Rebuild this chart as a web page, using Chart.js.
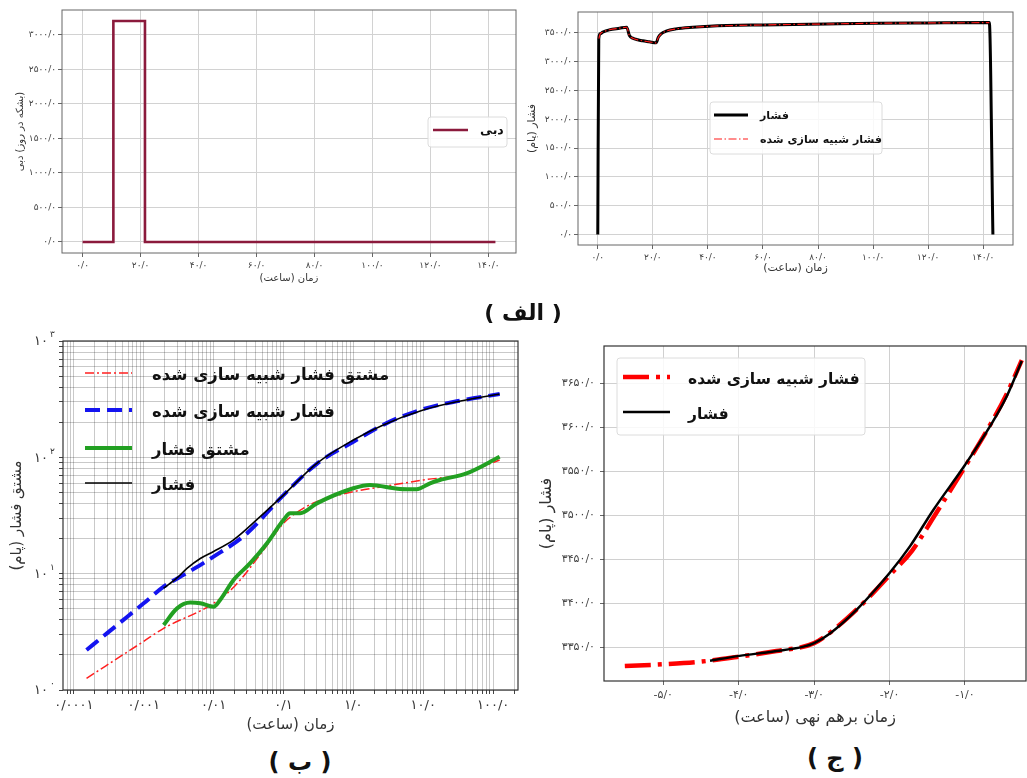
<!DOCTYPE html>
<html lang="fa">
<head>
<meta charset="utf-8">
<title>chart</title>
<script src="https://cdn.jsdelivr.net/npm/chart.js@4.4.1/dist/chart.umd.min.js"></script>
<style>
html,body{margin:0;padding:0;width:1027px;height:778px;overflow:hidden;background:#fff;}
canvas{position:absolute;}
.plabel{position:absolute;transform:translate(-50%,-50%);font-family:'DejaVu Sans',sans-serif;font-weight:bold;color:#111;white-space:nowrap;direction:rtl;}
</style>
</head>
<body>
<canvas id="cRate" width="520" height="292" style="left:0px;top:0px"></canvas>
<canvas id="cPres" width="517" height="292" style="left:510px;top:0px"></canvas>
<canvas id="cLog" width="530" height="420" style="left:0px;top:320px"></canvas>
<canvas id="cSup" width="520" height="400" style="left:530px;top:330px"></canvas>
<div class="plabel" style="left:523px;top:312px;font-size:22px">( الف )</div>
<div class="plabel" style="left:300px;top:762px;font-size:24px">( ب )</div>
<div class="plabel" style="left:835px;top:758px;font-size:24px">( ج )</div>
<script>
// ---------------- data ----------------
const rateHours = [0, 10.6, 10.6, 21.5, 21.5, 142.4];
const rateBblPerDay = [0, 0, 3200, 3200, 0, 0];

const pressureHours = [0, 0.36, 0.85, 1.8, 4.2, 7.9, 10.5, 11.5, 12.7, 14.5, 16.3, 18.7, 21.2, 22.0, 23.0, 24.8, 28.4, 34.5, 40.5, 60, 83, 101, 120, 142.2, 143.5];
const pressurePsi = [0, 3396, 3483, 3511, 3552, 3580, 3598, 3454, 3408, 3379, 3362, 3345, 3327, 3425, 3483, 3529, 3569, 3598, 3615, 3638, 3655, 3667, 3673, 3678, 0];
const simPressureHours = [0.4, 0.85, 1.8, 4.2, 7.9, 10.5, 11.5, 12.7, 14.5, 16.3, 18.7, 21.2, 22.0, 23.0, 24.8, 28.4, 34.5, 40.5, 60, 83, 101, 120, 142.2];
const simPressurePsi = [3400, 3480, 3512, 3553, 3581, 3597, 3452, 3407, 3378, 3361, 3344, 3326, 3420, 3480, 3528, 3568, 3597, 3614, 3637, 3654, 3666, 3672, 3677];

const logPressureHours = [0.00193, 0.003, 0.00416, 0.00645, 0.01, 0.0193, 0.0464, 0.1, 0.3, 1, 2.68, 10, 30, 124];
const logPressure = [7.5, 9.2, 11.1, 13.5, 15.5, 19.5, 30.9, 47.4, 88.8, 141, 190, 255, 300, 350];
const logSimPressureHours = [0.000152, 0.0003, 0.0006, 0.001, 0.00193, 0.004, 0.01, 0.03, 0.1, 0.3, 1, 3, 10, 30, 124];
const logSimPressure = [2.21, 3.08, 4.33, 5.56, 7.73, 10.0, 14.0, 22.2, 47.4, 88, 136, 197, 260, 303, 350];
const logDerivHours = [0.00193, 0.003, 0.00464, 0.00645, 0.01, 0.0124, 0.0193, 0.0334, 0.0578, 0.1, 0.1245, 0.173, 0.3, 1, 1.73, 4.64, 8.03, 12.5, 17.3, 41.6, 124];
const logDeriv = [3.62, 5.03, 5.64, 5.56, 5.2, 5.94, 8.83, 12.3, 18.2, 28.9, 33, 33, 40.2, 54.2, 57.8, 53.5, 53.2, 59.8, 63.9, 72.8, 101];
const logSimDerivHours = [0.000152, 0.001, 0.00193, 0.01, 0.02, 0.05, 0.1, 0.2, 0.3, 1, 3, 10, 33, 60, 124];
const logSimDeriv = [1.26, 2.62, 3.39, 5.56, 7.8, 15.5, 27.1, 37, 41.6, 50.7, 56.7, 63.9, 70.5, 80, 94.9];

const supTimeMeasured = [-4.38, -3.99, -3.54, -3.14, -3.0, -2.79, -2.435, -2.0, -1.73, -1.42, -1.0, -0.667, -0.446, -0.247];
const supPressureMeasured = [3335, 3340.5, 3345.5, 3351, 3355, 3366, 3393, 3434.5, 3464.7, 3506, 3557, 3601, 3635, 3675];
const supTimeSim = [-5.51, -5.0, -4.5, -4.0, -3.5, -3.0, -2.7, -2.4, -2.0, -1.7, -1.4, -1.0, -0.67, -0.45, -0.247];
const supPressureSim = [3329, 3331, 3334, 3339.5, 3346, 3355, 3373, 3396, 3432, 3460, 3500, 3555, 3602, 3637, 3676];

// ticks
const timeTickValues = [0, 20, 40, 60, 80, 100, 120, 140];
const timeTickLabels = ['۰/۰', '۲۰/۰', '۴۰/۰', '۶۰/۰', '۸۰/۰', '۱۰۰/۰', '۱۲۰/۰', '۱۴۰/۰'];
const rateTickValues = [0, 500, 1000, 1500, 2000, 2500, 3000];
const rateTickLabels = ['۰/۰', '۵۰۰/۰', '۱۰۰۰/۰', '۱۵۰۰/۰', '۲۰۰۰/۰', '۲۵۰۰/۰', '۳۰۰۰/۰'];
const presTickValues = [0, 500, 1000, 1500, 2000, 2500, 3000, 3500];
const presTickLabels = ['۰/۰', '۵۰۰/۰', '۱۰۰۰/۰', '۱۵۰۰/۰', '۲۰۰۰/۰', '۲۵۰۰/۰', '۳۰۰۰/۰', '۳۵۰۰/۰'];
const logXTickValues = [1e-4, 1e-3, 1e-2, 1e-1, 1, 10, 100];
const logXTickLabels = ['۰/۰۰۰۱', '۰/۰۰۱', '۰/۰۱', '۰/۱', '۱/۰', '۱۰/۰', '۱۰۰/۰'];
const logYTickValues = [1, 10, 100, 1000];
const logYTickExponents = ['۰', '۱', '۲', '۳'];
const supXTickValues = [-5, -4, -3, -2, -1];
const supXTickLabels = ['-۵/۰', '-۴/۰', '-۳/۰', '-۲/۰', '-۱/۰'];
const supYTickValues = [3350, 3400, 3450, 3500, 3550, 3600, 3650];
const supYTickLabels = ['۳۳۵۰/۰', '۳۴۰۰/۰', '۳۴۵۰/۰', '۳۵۰۰/۰', '۳۵۵۰/۰', '۳۶۰۰/۰', '۳۶۵۰/۰'];

// texts
const RLM = '\u200F';
const rtl = s => RLM + s + RLM;
const timeTitle = 'زمان (ساعت)';
const rateTitle = '(بشکه در روز) دبی';
const pressureTitle = 'فشار (پام)';
const derivTitle = 'مشتق فشار (پام)';
const supTitle = 'زمان برهم نهی (ساعت)';
const rateLegend = ['دبی'];
const presLegend = ['فشار', 'فشار شبیه سازی شده'];
const logLegend = ['مشتق فشار شبیه سازی شده', 'فشار شبیه سازی شده', 'مشتق فشار', 'فشار'];
const supLegend = ['فشار شبیه سازی شده', 'فشار'];

// ---------------- helpers ----------------
const FONT = "'DejaVu Sans', sans-serif";
Chart.defaults.font.family = FONT;
Chart.defaults.color = '#333';
const pts = (xs, ys) => xs.map((x, i) => ({x: x, y: ys[i]}));

function minorLogValues(lo, hi) {
  const out = [];
  for (let e = -6; e <= 4; e++) for (let m = 1; m <= 9; m++) {
    const v = m * Math.pow(10, e);
    if (v >= lo * 0.9999 && v <= hi * 1.0001) out.push({value: v, major: m === 1, exp: e});
  }
  return out;
}

function framePlugin(color, width) {
  return {
    id: 'frame',
    afterDatasetsDraw(chart) {
      const {ctx, chartArea: a} = chart;
      ctx.save();
      ctx.strokeStyle = color; ctx.lineWidth = width;
      ctx.strokeRect(a.left, a.top, a.right - a.left, a.bottom - a.top);
      ctx.restore();
    }
  };
}

function legendPlugin(cfg) {
  return {
    id: 'inLegend',
    afterDraw(chart) {
      const ctx = chart.ctx;
      ctx.save();
      if (cfg.box) {
        const b = cfg.box;
        ctx.fillStyle = 'rgba(255,255,255,0.85)';
        ctx.strokeStyle = '#dcdcdc'; ctx.lineWidth = 1;
        ctx.beginPath(); ctx.roundRect(b.x, b.y, b.w, b.h, 3); ctx.fill(); ctx.stroke();
      }
      ctx.font = 'bold ' + cfg.size + 'px ' + FONT;
      ctx.textBaseline = 'middle'; ctx.textAlign = 'left';
      cfg.rows.forEach(r => {
        ctx.strokeStyle = r.color; ctx.lineWidth = r.width; ctx.lineCap = 'butt';
        ctx.setLineDash(r.dash || []);
        ctx.beginPath(); ctx.moveTo(cfg.x0, r.y); ctx.lineTo(cfg.x1, r.y); ctx.stroke();
        ctx.setLineDash([]);
        ctx.fillStyle = '#111';
        ctx.fillText(r.text, cfg.textX, r.y + (cfg.dy || 0));
      });
      ctx.restore();
    }
  };
}

function fixedTicks(values) {
  return scale => { scale.ticks = values.map(v => ({value: v})); };
}

function linAxis(o) {
  return {
    type: 'linear', min: o.min, max: o.max,
    afterBuildTicks: fixedTicks(o.values),
    afterFit: o.horizontal ? (s => { s.height = o.size; }) : (s => { s.width = o.size; }),
    grid: {color: o.gridColor, lineWidth: 1, drawTicks: true, tickLength: 4, tickColor: '#666'},
    border: {display: false},
    ticks: {font: {size: o.tickSize}, color: '#444', padding: o.tickPad, maxRotation: 0, minRotation: 0, autoSkip: false,
      callback: (v, i) => o.labels[i]},
    title: {display: true, text: rtl(o.title), font: {size: o.titleSize}, color: '#333',
      padding: o.horizontal ? {top: 0, bottom: o.titlePad} : {top: o.titlePad, bottom: 0}}
  };
}

const line = (data, color, width, extra) => Object.assign({
  data: data, borderColor: color, backgroundColor: color, borderWidth: width,
  pointRadius: 0, pointHoverRadius: 0, fill: false, tension: 0
}, extra || {});

const baseOpts = {responsive: false, animation: false, devicePixelRatio: 1,
  plugins: {legend: {display: false}, tooltip: {enabled: false}}, events: []};

// ---------------- chart A : rate ----------------
new Chart(document.getElementById('cRate'), {
  type: 'line',
  data: {datasets: [line(pts(rateHours, rateBblPerDay), '#8b1a3c', 2.6)]},
  options: Object.assign({}, baseOpts, {
    layout: {padding: {left: 0, top: 10, right: 4, bottom: 0}},
    scales: {
      x: linAxis({horizontal: true, min: -7.12, max: 149.5, values: timeTickValues, labels: timeTickLabels, size: 39,
        gridColor: '#d2d2d2', tickSize: 9, tickPad: 3, title: timeTitle, titleSize: 10, titlePad: 8}),
      y: linAxis({horizontal: false, min: -160, max: 3360, values: rateTickValues, labels: rateTickLabels, size: 62,
        gridColor: '#d2d2d2', tickSize: 9, tickPad: 2, title: rateTitle, titleSize: 10, titlePad: 14})
    }
  }),
  plugins: [framePlugin('#666', 1), legendPlugin({box: {x: 428, y: 117, w: 79, h: 30}, size: 12.5, x0: 433, x1: 468, textX: 480, dy: 1,
    rows: [{y: 130, text: rateLegend[0], color: '#8b1a3c', width: 2.6}]})]
});

// ---------------- chart B : pressure ----------------
new Chart(document.getElementById('cPres'), {
  type: 'line',
  data: {datasets: [
    line(pts(pressureHours, pressurePsi), '#000000', 3, {cubicInterpolationMode: 'monotone', order: 1}),
    line(pts(simPressureHours, simPressurePsi), '#ff1a1a', 1.2, {cubicInterpolationMode: 'monotone', borderDash: [8, 2.5, 1.5, 2.5], order: 0})
  ]},
  options: Object.assign({}, baseOpts, {
    layout: {padding: {left: 0, top: 12, right: 14, bottom: 0}},
    scales: {
      x: linAxis({horizontal: true, min: -7.18, max: 150.8, values: timeTickValues, labels: timeTickLabels, size: 47,
        gridColor: '#d2d2d2', tickSize: 9, tickPad: 3, title: timeTitle, titleSize: 11, titlePad: 17}),
      y: linAxis({horizontal: false, min: -184, max: 3862, values: presTickValues, labels: presTickLabels, size: 68,
        gridColor: '#d2d2d2', tickSize: 9, tickPad: 2, title: pressureTitle, titleSize: 11, titlePad: 16})
    }
  }),
  plugins: [framePlugin('#666', 1), legendPlugin({box: {x: 200, y: 102, w: 172, h: 52}, size: 11, x0: 204, x1: 238, textX: 250, dy: 1,
    rows: [{y: 115, text: presLegend[0], color: '#000', width: 3},
           {y: 139, text: presLegend[1], color: '#ff1a1a', width: 1.2, dash: [8, 2.5, 1.5, 2.5]}]})]
});

// ---------------- chart C : log-log ----------------
const LOGX_MIN = 7.05e-5, LOGX_MAX = 227;
const supLabelsPlugin = {
  id: 'supLabels',
  afterDraw(chart) {
    const ctx = chart.ctx, ys = chart.scales.y, a = chart.chartArea;
    ctx.save();
    ctx.fillStyle = '#333'; ctx.textBaseline = 'middle';
    logYTickValues.forEach((v, i) => {
      const y = ys.getPixelForValue(v);
      ctx.font = '13px ' + FONT; ctx.textAlign = 'right';
      ctx.fillText('۱۰', a.left - 15, y + 1);
      ctx.font = '9px ' + FONT; ctx.textAlign = 'left';
      ctx.fillText(logYTickExponents[i], a.left - 13, y - 6);
    });
    ctx.restore();
  }
};
new Chart(document.getElementById('cLog'), {
  type: 'line',
  data: {datasets: [
    line(pts(logSimDerivHours, logSimDeriv), '#ff2020', 1.5, {cubicInterpolationMode: 'monotone', borderDash: [9, 3, 2, 3], order: 3}),
    line(pts(logSimPressureHours, logSimPressure), '#1414f0', 4, {cubicInterpolationMode: 'monotone', borderDash: [15, 7], order: 2}),
    line(pts(logDerivHours, logDeriv), '#22a022', 4, {cubicInterpolationMode: 'monotone', order: 1}),
    line(pts(logPressureHours, logPressure), '#000000', 1.6, {cubicInterpolationMode: 'monotone', order: 0})
  ]},
  options: Object.assign({}, baseOpts, {
    layout: {padding: {left: 0, top: 21, right: 12, bottom: 0}},
    scales: {
      x: {type: 'logarithmic', min: LOGX_MIN, max: LOGX_MAX,
        afterBuildTicks: s => { s.ticks = minorLogValues(LOGX_MIN, LOGX_MAX); },
        afterFit: s => { s.height = 50; },
        grid: {color: 'rgba(0,0,0,0.21)', lineWidth: 1, drawTicks: true, tickLength: 4, tickColor: '#444'},
        border: {display: false},
        ticks: {font: {size: 13}, color: '#333', padding: 4, maxRotation: 0, minRotation: 0, autoSkip: false,
          callback: (v) => { const k = logXTickValues.findIndex(t => Math.abs(t - v) / t < 1e-6); return k >= 0 ? logXTickLabels[k] : ''; }},
        title: {display: true, text: rtl(timeTitle), font: {size: 15}, color: '#333', padding: {top: 0, bottom: 6}}
      },
      y: {type: 'logarithmic', min: 1, max: 1000,
        afterBuildTicks: s => { s.ticks = minorLogValues(1, 1000); },
        afterFit: s => { s.width = 63; },
        grid: {color: 'rgba(0,0,0,0.21)', lineWidth: 1, drawTicks: true, tickLength: 4, tickColor: '#444'},
        border: {display: false},
        ticks: {font: {size: 13}, padding: 4, autoSkip: false, callback: () => ''},
        title: {display: true, text: rtl(derivTitle), font: {size: 15}, color: '#333', padding: {top: 8, bottom: 0}}
      }
    }
  }),
  plugins: [framePlugin('#333', 1.2), supLabelsPlugin, legendPlugin({box: null, size: 16.5, x0: 85, x1: 132, textX: 152, dy: 3,
    rows: [{y: 53, text: logLegend[0], color: '#ff2020', width: 1.5, dash: [9, 3, 2, 3]},
           {y: 90, text: logLegend[1], color: '#1414f0', width: 4, dash: [15, 7]},
           {y: 128, text: logLegend[2], color: '#22a022', width: 4},
           {y: 163, text: logLegend[3], color: '#000', width: 1.6}]})]
});

// ---------------- chart D : superposition ----------------
new Chart(document.getElementById('cSup'), {
  type: 'line',
  data: {datasets: [
    line(pts(supTimeSim, supPressureSim), '#ff0000', 4.5, {cubicInterpolationMode: 'monotone', borderDash: [26, 7, 4, 7], order: 1}),
    line(pts(supTimeMeasured, supPressureMeasured), '#000000', 2.5, {cubicInterpolationMode: 'monotone', order: 0})
  ]},
  options: Object.assign({}, baseOpts, {
    layout: {padding: {left: 0, top: 16, right: 24, bottom: 0}},
    scales: {
      x: linAxis({horizontal: true, min: -5.786, max: -0.191, values: supXTickValues, labels: supXTickLabels, size: 49,
        gridColor: '#d0d0d0', tickSize: 11, tickPad: 4, title: supTitle, titleSize: 16, titlePad: 3}),
      y: linAxis({horizontal: false, min: 3312, max: 3692, values: supYTickValues, labels: supYTickLabels, size: 74,
        gridColor: '#d0d0d0', tickSize: 11, tickPad: 5, title: pressureTitle, titleSize: 16, titlePad: 7})
    }
  }),
  plugins: [framePlugin('#333', 1.2), legendPlugin({box: {x: 87, y: 28, w: 248, h: 77}, size: 15.5, x0: 93, x1: 140, textX: 158, dy: 3,
    rows: [{y: 47, text: supLegend[0], color: '#ff0000', width: 4.5, dash: [26, 7, 4, 7]},
           {y: 82, text: supLegend[1], color: '#000', width: 2.5}]})]
});
</script>
</body>
</html>
